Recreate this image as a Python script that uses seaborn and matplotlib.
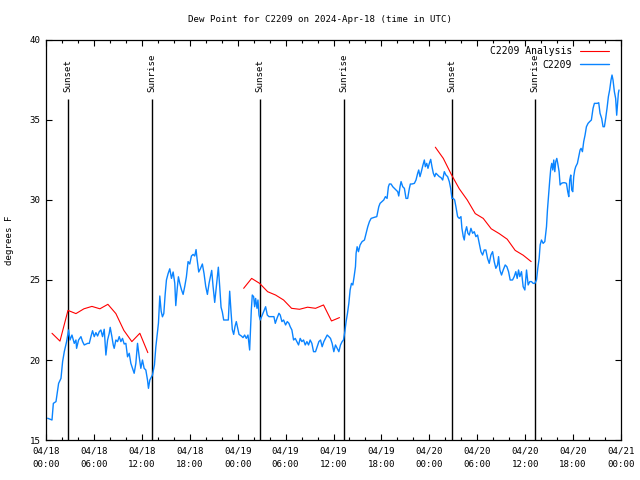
import matplotlib
matplotlib.use("Agg")
import matplotlib.pyplot as plt
import matplotlib.dates as mdates
from matplotlib.ticker import MultipleLocator
import pandas as pd
import seaborn as sns

START = pd.Timestamp("2024-04-18 00:00")
END = pd.Timestamp("2024-04-21 00:00")

TITLE = "Dew Point for C2209 on 2024-Apr-18 (time in UTC)"
Y_LABEL = "degrees F"
STATION_LABEL = "C2209"
ANALYSIS_LABEL = "C2209 Analysis"

# Observed dew point (hours after 04/18 00:00 UTC, deg F)
blue_hours = [
    0.21, 0.75, 0.92, 1.25, 1.58, 1.875, 2.08, 2.29, 2.58, 2.83, 3.0, 3.25, 3.54, 3.75, 3.83,
    4.08, 4.375, 4.58, 4.79, 5.21, 5.42, 5.625, 5.83, 6.04, 6.25, 6.46, 6.67, 6.875, 7.08, 7.29,
    7.5, 7.71, 7.92, 8.04, 8.25, 8.42, 8.54, 8.75, 8.96, 9.17, 9.375, 9.58, 9.79, 10.0, 10.21,
    10.42, 10.625, 10.83, 11.04, 11.25, 11.46, 11.67, 11.875, 12.08, 12.29, 12.5, 12.71, 12.83,
    13.0, 13.33, 13.58, 13.75, 13.92, 14.08, 14.25, 14.42, 14.58, 14.75, 14.92, 15.08, 15.29,
    15.5, 15.71, 15.92, 16.125, 16.25, 16.42, 16.58, 16.75, 16.96, 17.17, 17.375, 17.58, 17.79,
    18.0, 18.21, 18.42, 18.625, 18.79, 18.92, 19.125, 19.33, 19.58, 19.79, 20.0, 20.21, 20.42,
    20.625, 20.75, 20.92, 21.125, 21.33, 21.58, 21.75, 21.92, 22.08, 22.25, 22.58, 22.83, 23.0,
    23.17, 23.33, 23.5, 23.67, 23.83, 24.0, 24.17, 24.46, 24.67,
    24.875, 25.08, 25.29, 25.5, 25.71, 25.83, 26.0, 26.125, 26.25, 26.42, 26.54, 26.67, 26.83,
    27.0, 27.25, 27.5, 27.71, 27.92, 28.21, 28.54, 28.71, 28.92, 29.17, 29.33, 29.54, 29.75,
    30.0, 30.21, 30.42, 30.58, 30.79, 31.0, 31.21, 31.42, 31.625, 31.83, 32.04, 32.25, 32.46,
    32.67, 32.875, 33.08, 33.29, 33.5, 33.75, 33.96, 34.17, 34.375, 34.58, 34.79, 35.0, 35.21,
    35.42, 35.625, 35.83, 36.04, 36.25, 36.46, 36.67, 36.875, 37.08,
    37.25, 37.42, 37.58, 37.75, 37.92, 38.08, 38.25, 38.42, 38.58, 38.75, 38.83, 38.96, 39.125,
    39.33, 39.58, 39.875, 40.08, 40.29, 40.5, 40.71, 41.125, 41.42, 41.67, 41.83, 42.08, 42.29,
    42.5, 42.71, 42.875, 43.0, 43.21, 43.42, 43.625, 43.83, 44.04, 44.17, 44.33, 44.46, 44.67,
    44.875, 45.08, 45.29, 45.5, 45.625, 45.83, 46.125, 46.33, 46.54, 46.67, 46.83, 47.0, 47.17,
    47.375, 47.5, 47.67, 47.83, 48.0, 48.17, 48.33, 48.5, 48.67, 48.83, 49.04, 49.25,
    49.46, 49.67, 49.875, 50.08, 50.29, 50.5, 50.67, 50.83, 51.0, 51.17, 51.33, 51.54, 51.75,
    51.96, 52.08, 52.25, 52.375, 52.5, 52.67, 52.83, 53.0, 53.21, 53.42, 53.625, 53.83, 54.04,
    54.25, 54.46, 54.67, 54.875, 55.08, 55.29, 55.5, 55.71, 55.92, 56.125, 56.33, 56.54, 56.67,
    56.83, 57.04, 57.25, 57.5, 57.71, 57.92, 58.125, 58.42, 58.625, 58.83, 59.0, 59.17, 59.33,
    59.54, 59.75, 59.96, 60.17, 60.375, 60.58, 60.79, 61.0, 61.21,
    61.42, 61.58, 61.75, 61.875, 62.04, 62.25, 62.46, 62.67, 62.79, 62.92, 63.08, 63.21, 63.33,
    63.46, 63.58, 63.71, 63.83, 63.96, 64.08, 64.25, 64.375, 64.54, 64.75, 64.96, 65.17, 65.33,
    65.46, 65.58, 65.71, 65.83, 65.96, 66.08, 66.21, 66.33, 66.54, 66.75, 66.875, 67.0, 67.17,
    67.33, 67.5, 67.67, 67.875, 68.08, 68.29, 68.5, 68.67, 68.83, 69.04, 69.21, 69.375, 69.58,
    69.75, 69.92, 70.08, 70.25, 70.42, 70.58, 70.75, 70.875, 71.0, 71.17, 71.33, 71.46, 71.58,
    71.67, 71.75,
]
blue_dewpt = [
    16.36, 16.25, 17.29, 17.4, 18.54, 18.85, 19.9, 20.52, 21.15, 21.875, 21.25, 21.56, 21.04, 21.25, 20.73,
    21.25, 21.46, 21.15, 20.94, 21.04, 21.04, 21.46, 21.83, 21.46, 21.71, 21.5, 21.77, 21.875, 21.46, 21.92,
    20.31, 21.25, 21.67, 22.04, 21.46, 20.94, 20.73, 21.25, 21.15, 21.46, 21.15, 21.35, 21.0, 21.04, 20.2,
    20.42, 19.79, 19.48, 19.17, 19.79, 21.04, 20.2, 19.48, 20.0, 19.48, 19.375, 18.75, 18.23,
    18.75, 19.06, 19.7, 20.8, 21.6, 22.3, 24.0, 23.05, 22.7, 22.9, 24.1, 25.0, 25.4,
    25.7, 25.1, 25.5, 24.8, 23.4, 24.4, 25.2, 24.8, 24.4, 24.1, 24.6, 25.2, 26.15,
    26.0, 26.5, 26.6, 26.5, 26.9, 26.3, 25.5, 25.7, 26.0, 25.4, 24.6, 24.1, 24.8,
    25.3, 25.6, 24.6, 23.6, 24.6, 25.8, 24.6, 23.3, 23.0, 22.5, 22.5, 22.5, 24.3,
    23.0, 21.9, 21.6, 22.1, 22.4, 22.0, 21.6, 21.5, 21.4,
    21.56, 21.35, 21.56, 20.625, 23.125, 24.06, 23.96, 23.33, 23.85, 23.23, 23.75, 22.81, 22.5,
    22.71, 23.02, 23.33, 22.81, 22.71, 22.71, 22.71, 22.29, 22.6, 22.92, 22.81, 22.4, 22.5,
    22.19, 22.4, 22.29, 22.08, 21.875, 21.25, 21.35, 21.15, 20.94, 21.35, 21.15, 21.25, 20.94,
    21.15, 20.94, 21.25, 21.04, 20.52, 20.52, 20.83, 21.15, 21.25, 20.83, 21.15, 21.35, 21.56,
    21.46, 21.35, 21.04, 20.52, 20.94, 20.73, 20.52, 20.94, 21.15,
    21.25, 21.77, 22.4, 22.92, 23.54, 24.375, 24.79, 24.69, 25.21, 25.83, 26.67, 27.08, 26.77,
    27.19, 27.4, 27.5, 27.92, 28.33, 28.65, 28.85, 28.92, 28.96, 29.58, 29.79, 29.9, 30.0,
    30.21, 30.1, 30.83, 31.0, 31.0, 30.83, 30.73, 30.625, 30.52, 30.25, 30.83, 31.15, 30.83,
    30.73, 30.1, 30.1, 30.73, 31.0, 31.0, 31.04, 31.25, 31.67, 31.875, 31.46, 31.77, 32.125,
    32.5, 32.08, 32.29, 31.98, 32.29, 32.54, 32.08, 31.67, 31.46, 31.67, 31.56, 31.46,
    31.4, 31.25, 31.77, 31.56, 31.46, 31.15, 30.73, 30.1, 30.1, 30.0, 29.58, 28.96, 28.85,
    28.96, 28.23, 27.71, 27.5, 28.02, 28.33, 27.92, 27.81, 28.23, 27.92, 28.02, 27.71, 27.81,
    27.29, 26.77, 26.56, 26.875, 26.875, 26.35, 26.04, 26.56, 26.77, 26.15, 25.73, 25.94, 26.46,
    25.625, 25.31, 25.625, 25.94, 25.83, 25.52, 25.0, 25.0, 25.21, 25.52, 25.1, 25.625, 25.21,
    25.52, 24.58, 24.375, 25.625, 24.69, 24.9, 24.9, 24.79, 24.79,
    25.0, 25.73, 26.35, 27.19, 27.5, 27.29, 27.4, 28.33, 29.375, 30.21, 31.25, 31.98, 32.29,
    31.875, 32.5, 31.77, 32.4, 32.6, 32.29, 31.77, 30.94, 31.04, 31.08, 31.08, 31.04, 30.52,
    30.21, 31.25, 31.56, 30.625, 30.52, 31.46, 31.875, 32.08, 32.29, 32.81, 33.125, 33.23, 33.02,
    33.65, 34.06, 34.58, 34.79, 34.9, 35.0, 35.73, 36.04, 36.04, 36.04, 36.08, 35.42, 35.1,
    34.58, 34.58, 35.1, 35.73, 36.46, 36.875, 37.5, 37.81, 37.5, 36.77, 36.35, 35.3, 36.04,
    36.67, 36.875,
]

# Analysis dew point, three hourly runs
analysis_start_hours = [0.75, 24.75, 48.75]
analysis_run1 = [21.67, 21.18, 23.1, 22.9, 23.2, 23.35, 23.2, 23.48, 22.9, 21.85, 21.15, 21.67, 20.46]
analysis_run2 = [24.48, 25.1, 24.79, 24.27, 24.06, 23.75, 23.23, 23.17, 23.3, 23.23, 23.44, 22.44, 22.65]
analysis_run3 = [33.3, 32.6, 31.6, 30.7, 30.0, 29.15, 28.85, 28.2, 27.9, 27.55, 26.85, 26.55, 26.15]

# Sun events (hours after start)
sun_labels = ["Sunset", "Sunrise", "Sunset", "Sunrise", "Sunset", "Sunrise"]
sun_hours = [2.8, 13.3, 26.82, 37.3, 50.85, 61.27]

BLUE = "#0a84ff"
RED = "#ff0000"
FS = 6.6

sns.set_theme(style="ticks")
plt.rcParams["font.family"] = ["DejaVu Sans Mono", "DejaVu Sans"]
plt.rcParams.update({
    "font.size": FS, "axes.labelsize": FS, "xtick.labelsize": FS,
    "ytick.labelsize": FS, "legend.fontsize": FS, "axes.titlesize": FS,
    "axes.edgecolor": "black", "axes.linewidth": 0.9,
    "xtick.color": "black", "ytick.color": "black", "text.color": "black",
    "axes.labelcolor": "black",
})

def to_time(hours):
    return START + pd.to_timedelta(pd.Series(hours, dtype=float), unit="h")

fig = plt.figure(figsize=(6.4, 4.8), dpi=100)
ax = fig.add_axes([46 / 640, 40 / 480, 575 / 640, 400 / 480])

# analysis runs
frames = []
for k, (h0, vals) in enumerate(zip(analysis_start_hours, [analysis_run1, analysis_run2, analysis_run3])):
    hrs = [h0 + i for i in range(len(vals))]
    frames.append(pd.DataFrame({"time": to_time(hrs), "dewpt": vals, "run": k}))
df_an = pd.concat(frames, ignore_index=True)
sns.lineplot(data=df_an, x="time", y="dewpt", units="run", estimator=None,
             color=RED, lw=0.8, ax=ax, label=ANALYSIS_LABEL)

df_obs = pd.DataFrame({"time": to_time(blue_hours), "dewpt": blue_dewpt})
sns.lineplot(data=df_obs, x="time", y="dewpt", color=BLUE, lw=1.0, ax=ax,
             label=STATION_LABEL, estimator=None)

# sunrise / sunset markers
for lab, h in zip(sun_labels, sun_hours):
    t = START + pd.Timedelta(hours=h)
    ax.vlines(t, 15, 36.3, color="black", lw=1.0, zorder=1)
    ax.text(t, 36.75, lab, rotation=90, ha="center", va="bottom", fontsize=FS)

ax.set_xlim(START, END)
ax.set_ylim(15, 40)
ax.yaxis.set_major_locator(MultipleLocator(5))
ax.xaxis.set_major_locator(mdates.HourLocator(byhour=[0, 6, 12, 18]))
ax.xaxis.set_minor_locator(mdates.HourLocator(byhour=list(range(0, 24, 2))))
ax.xaxis.set_major_formatter(mdates.DateFormatter("%m/%d\n%H:%M"))
ax.tick_params(which="both", direction="in", top=True, right=True, width=0.8)
ax.tick_params(which="major", length=4.5)
ax.tick_params(which="minor", length=2.2)
ax.tick_params(axis="x", which="major", pad=5)
ax.tick_params(axis="y", which="major", pad=4)
ax.set_xlabel("")
ax.set_ylabel(Y_LABEL)
ax.yaxis.label.set_va("center")
ax.yaxis.set_label_coords(-36 / 575, 0.5)
for s in ax.spines.values():
    s.set_color("black")
    s.set_linewidth(0.9)

handles, labels = ax.get_legend_handles_labels()
uniq = {}
for h, l in zip(handles, labels):
    uniq.setdefault(l, h)
order = [ANALYSIS_LABEL, STATION_LABEL]
ax.legend([uniq[l] for l in order], order, loc="upper right", frameon=False,
          bbox_to_anchor=(1 - 6 / 575, 1.0),
          markerfirst=False, handlelength=3.0, handletextpad=0.75,
          labelspacing=0.35, borderaxespad=0.45, borderpad=0.2, fontsize=7)

fig.text(0.5, 1 - 19 / 480, TITLE, ha="center", va="center", fontsize=FS)

fig.canvas.draw()
for lab in ax.get_xticklabels():
    lab.set_linespacing(1.55)

fig.savefig("out.png", dpi=100)
